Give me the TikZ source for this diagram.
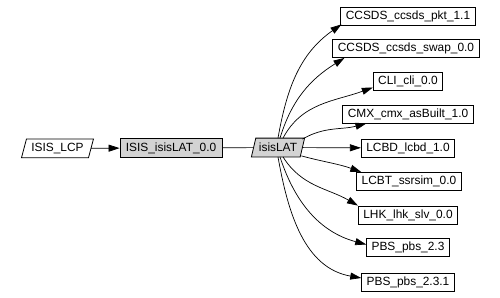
\documentclass[tikz,border=0pt]{standalone}
\usepackage{fontspec}
\setmainfont{Liberation Sans}
\usetikzlibrary{arrows.meta,calc,backgrounds}
\definecolor{nodegray}{HTML}{D3D3D3}
\tikzset{
  box/.style={draw,line width=0.8pt,rectangle,inner xsep=5pt,inner ysep=0pt,minimum height=18pt,font=\fontsize{11.9}{13}\selectfont},
  paratext/.style={rectangle,inner sep=0pt,minimum height=18.4pt,font=\fontsize{11.9}{13}\selectfont},
  paraline/.style={draw,line width=0.8pt},
  edge/.style={line width=0.7pt,-{Triangle[length=11pt,width=7pt]}},
}
\begin{document}
\begin{tikzpicture}[x=1pt,y=1pt]
\useasboundingbox (0,0) rectangle (500,-297);
\node[paratext,minimum width=66.6pt] (lcp) at (57.5,-148.3) {ISIS\_LCP};
\node[box,fill=nodegray,minimum width=102pt,minimum height=19pt] (isis) at (171,-148) {ISIS\_isisLAT\_0.0};
\node[paratext,minimum width=48.4pt] (lat) at (278,-147.5) {isisLAT};
\begin{scope}[on background layer]
\draw[paraline,fill=white] ($(lcp.south west)+(-2.5,0)$) -- ($(lcp.north west)+(2.5,0)$) -- ($(lcp.north east)+(2.5,0)$) -- ($(lcp.south east)+(-2.5,0)$) -- cycle;
\draw[paraline,fill=nodegray] ($(lat.south west)+(-2.2,0)$) -- ($(lat.north west)+(2.2,0)$) -- ($(lat.north east)+(2.2,0)$) -- ($(lat.south east)+(-2.2,0)$) -- cycle;
\end{scope}
\node[box] (t1) at (408,-16) {CCSDS\_ccsds\_pkt\_1.1};
\node[box] (t2) at (406,-48.5) {CCSDS\_ccsds\_swap\_0.0};
\node[box] (t3) at (408,-81.5) {CLI\_cli\_0.0};
\node[box] (t4) at (408,-114) {CMX\_cmx\_asBuilt\_1.0};
\node[box] (t5) at (408,-148) {LCBD\_lcbd\_1.0};
\node[box] (t6) at (409,-181.5) {LCBT\_ssrsim\_0.0};
\node[box] (t7) at (408,-215) {LHK\_lhk\_slv\_0.0};
\node[box] (t8) at (408,-247.5) {PBS\_pbs\_2.3};
\node[box] (t9) at (408,-282) {PBS\_pbs\_2.3.1};
\draw[edge] (lcp) -- (isis);
\draw[line width=0.7pt] (isis) -- (lat);
\draw[edge] ($(lat.north)+(0,0)$) to[out=80,in=215] ($(t1.south west)+(1,1)$);
\draw[edge] ($(lat.north)+(2,0)$) to[out=73,in=212] ($(t2.south west)+(12,0)$);
\draw[edge] ($(lat.north)+(5,0)$) to[out=62,in=200] ($(t3.west)+(0,-6)$);
\draw[edge] ($(lat.north east)+(0,-1)$) to[out=30,in=195] ($(t4.south west)+(24,0)$);
\draw[edge] (lat) -- (t5);
\draw[edge] ($(lat.south east)+(-1,1)$) to[out=-15,in=160] ($(t6.north west)+(5,0)$);
\draw[edge] ($(lat.south)+(5,0)$) to[out=-58,in=150] ($(t7.north west)+(0,0)$);
\draw[edge] ($(lat.south)+(2,0)$) to[out=-72,in=165] ($(t8.west)+(0,3)$);
\draw[edge] ($(lat.south)+(0,0)$) to[out=-80,in=170] ($(t9.west)+(0,4)$);
\end{tikzpicture}
\end{document}
